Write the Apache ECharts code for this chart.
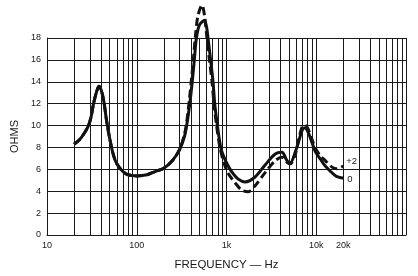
<!DOCTYPE html>
<html><head><meta charset="utf-8">
<script src="https://cdn.jsdelivr.net/npm/echarts@6/dist/echarts.min.js"></script>
<style>html,body{margin:0;padding:0;background:#fff}#c{width:418px;height:276px}</style>
</head><body><div id="c"></div>
<script>
var solidFreq = [20,23,26,29,31,33,36,38,40,43,46,50,55,60,70,80,100,130,160,200,250,300,340,360,390,415,438,462,500,566,600,622,665,708,739,792,863,950,1045,1138,1353,1606,2081,2693,3489,4150,4720,5140,5850,6390,7000,7500,8200,9000,9800,11200,12600,16500,20000];
var solidOhms = [8.3,8.7,9.3,10.0,10.8,12.0,13.2,13.6,13.3,12.2,10.5,8.8,7.3,6.5,5.8,5.5,5.4,5.5,5.8,6.1,6.8,7.8,9.0,10.0,12,14,16,18,19.2,19.6,19.0,18,16,14,12,10,8,7,6.3,5.8,5.1,4.85,5.3,6.4,7.4,7.55,6.8,6.6,7.6,8.6,9.6,9.8,9.3,8.4,7.6,6.9,6.3,5.4,5.2];
var dashedFreq = [20,23,26,29,31,33,36,38,40,43,46,50,55,60,70,80,100,130,160,200,250,300,340,360,385,408,430,452,480,533,570,605,645,690,725,775,845,935,1050,1240,1475,1754,2081,2693,3489,4150,4720,5140,5850,6500,7000,7600,8300,9000,9800,11200,12600,15000,17000,20000];
var dashedOhms = [8.3,8.7,9.3,10.0,10.8,12.0,13.2,13.6,13.3,12.2,10.5,8.8,7.3,6.5,5.8,5.5,5.4,5.5,5.8,6.1,6.8,7.8,9.2,10.3,12.3,14.3,16.3,18.3,20,21,20,18,16,14,12,10,8,6.6,5.6,4.8,4.1,3.95,4.5,5.7,6.8,7.1,6.65,6.5,7.4,9.0,9.9,10.0,9.5,8.7,7.9,7.2,6.8,6.2,6.05,6.3];
var minorGridFreq = [20,30,40,50,60,70,80,90,200,300,400,500,600,700,800,900,2000,3000,4000,5000,6000,7000,8000,9000,20000,30000,40000,50000,60000,70000,80000,90000];
var xTickLabels = {10:'10',100:'100',1000:'1k',10000:'10k',100000:''};
var extraTickLabels = {20000:'20k'};
var seriesLabels = ['0','+2'];

function pairs(f, v){ return f.map(function(x,i){ return [x, v[i]]; }); }
var ink = '#1a1a1a';
var font = 'Liberation Sans';

var chart = echarts.init(document.getElementById('c'), null, {renderer:'canvas'});
chart.setOption({
  animation: false,
  backgroundColor: '#fff',
  grid: {left: 47, right: 12, top: 38, bottom: 39},
  xAxis: {
    type: 'log', logBase: 10, min: 10, max: 100000,
    name: 'FREQUENCY — Hz', nameLocation: 'middle', nameGap: 24,
    nameTextStyle: {color: ink, fontFamily: font, fontSize: 11.5},
    axisLine: {show: true, lineStyle: {color: ink, width: 1}},
    axisTick: {show: false},
    axisLabel: {color: ink, fontFamily: font, fontSize: 9, margin: 6,
      formatter: function(v){ var k = Math.round(v); return xTickLabels[k] !== undefined ? xTickLabels[k] : ''; }},
    splitLine: {show: true, lineStyle: {color: ink, width: 1}},
    minorTick: {show: false}, minorSplitLine: {show: false}
  },
  yAxis: {
    type: 'value', min: 0, max: 18, interval: 2,
    name: 'OHMS', nameLocation: 'middle', nameGap: 25, nameRotate: 90,
    nameTextStyle: {color: ink, fontFamily: font, fontSize: 11},
    axisLine: {show: true, lineStyle: {color: ink, width: 1}},
    axisTick: {show: false},
    axisLabel: {color: ink, fontFamily: font, fontSize: 9, margin: 6},
    splitLine: {show: true, lineStyle: {color: ink, width: 1}}
  },
  series: [
    {
      type: 'line', data: pairs(solidFreq, solidOhms), smooth: 0.3, showSymbol: false, clip: false,
      lineStyle: {color: '#111', width: 3, type: 'solid'},
      endLabel: {show: true, formatter: seriesLabels[0], color: ink, fontFamily: font, fontSize: 9.5, distance: 4, offset: [0, 1]},
      markLine: {
        silent: true, symbol: ['none','none'], animation: false,
        lineStyle: {color: ink, width: 1, type: 'solid'},
        label: {show: false},
        data: minorGridFreq.map(function(f){
          var item = {xAxis: f};
          if (extraTickLabels[f]) {
            item.label = {show: true, position: 'start', formatter: extraTickLabels[f], color: ink, fontFamily: font, fontSize: 9, distance: 6};
          }
          return item;
        })
      },
      z: 3
    },
    {
      type: 'line', data: pairs(dashedFreq, dashedOhms), smooth: 0.3, showSymbol: false, clip: false,
      lineStyle: {color: '#111', width: 3, type: [8, 4]},
      endLabel: {show: true, formatter: seriesLabels[1], color: ink, fontFamily: font, fontSize: 9.5, distance: 3, offset: [0, -5]},
      z: 4
    }
  ]
});
</script></body></html>
